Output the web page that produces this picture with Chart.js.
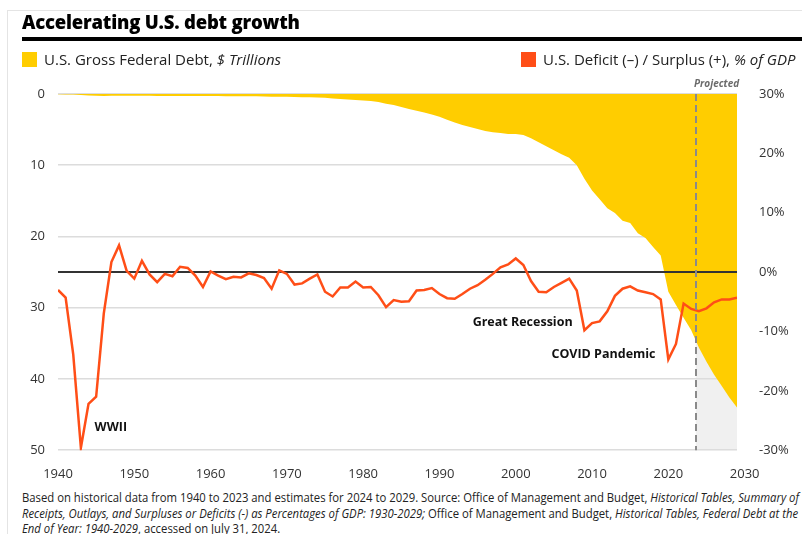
<!DOCTYPE html>
<html>
<head>
<meta charset="utf-8">
<script src="https://cdn.jsdelivr.net/npm/chart.js@4.4.1/dist/chart.umd.min.js"></script>
<style>
  html, body { margin: 0; padding: 0; background: #fff; }
  body { width: 802px; height: 534px; position: relative; overflow: hidden; font-family: "Open Sans", sans-serif; color: #222; }
  #frame { position: absolute; left: 7px; top: 10px; width: 800px; height: 530px; border-left: 1px solid #e4e4e4; border-top: 1px solid #e4e4e4; }
  #title { position: absolute; left: 22px; top: 9px; font-weight: 800; font-size: 18.5px; color: #000; letter-spacing: -0.2px; }
  #rule { position: absolute; left: 22px; top: 37px; right: 0; height: 4px; background: #000; }
  .leg { position: absolute; top: 49px; font-size: 15px; color: #222; display: flex; align-items: center; white-space: nowrap; }
  .sw { width: 15px; height: 15px; margin-right: 7px; }
  #chartBox { position: absolute; left: 0; top: 0; width: 802px; height: 480px; }
  #note { position: absolute; left: 22px; top: 490px; font-size: 13px; line-height: 15.5px; color: #222; transform-origin: 0 0; }
  #note div { white-space: nowrap; }
</style>
</head>
<body>
<div id="frame"></div>
<div id="chartBox"><canvas id="myChart"></canvas></div>
<div id="title">Accelerating U.S. debt growth</div>
<div id="rule"></div>
<div class="leg" style="left:22px"><span class="sw" style="background:#FFCD00"></span>U.S. Gross Federal Debt,&nbsp;<i>$ Trillions</i></div>
<div class="leg" style="left:521px"><span class="sw" style="background:#FF4E17"></span>U.S. Deficit (–) / Surplus (+),&nbsp;<i>% of GDP</i></div>
<div id="note">
  <div id="noteFirst">Based on historical data from 1940 to 2023 and estimates for 2024 to 2029. Source: Office of Management and Budget, <i>Historical Tables, Summary of</i></div>
  <div><i>Receipts, Outlays, and Surpluses or Deficits (-) as Percentages of GDP: 1930-2029;</i> Office of Management and Budget, <i>Historical Tables, Federal Debt at the</i></div>
  <div><i>End of Year: 1940-2029</i>, accessed on July 31, 2024.</div>
</div>
<script>
// squeeze the source note to the width of the frame
const first = document.getElementById('noteFirst');
const k = 777 / first.getBoundingClientRect().width;
document.getElementById('note').style.transform = 'scaleX(' + k + ')';

// years 1940..2029
const years = [];
for (let y = 1940; y <= 2029; y++) years.push(y);

// gross federal debt, $ trillions (end of year)
const debt = [
  0.05, 0.06, 0.08, 0.14, 0.20, 0.26, 0.27, 0.26, 0.25, 0.25,
  0.26, 0.26, 0.26, 0.27, 0.27, 0.27, 0.27, 0.27, 0.28, 0.29,
  0.29, 0.29, 0.30, 0.31, 0.32, 0.32, 0.33, 0.34, 0.37, 0.37,
  0.38, 0.41, 0.44, 0.47, 0.48, 0.54, 0.63, 0.71, 0.78, 0.83,
  0.91, 0.99, 1.14, 1.37, 1.56, 1.82, 2.12, 2.35, 2.60, 2.87,
  3.21, 3.60, 4.00, 4.35, 4.64, 4.92, 5.18, 5.37, 5.48, 5.61,
  5.63, 5.77, 6.20, 6.76, 7.35, 7.91, 8.45, 8.95, 9.99, 11.88,
  13.53, 14.76, 16.05, 16.72, 17.79, 18.12, 19.54, 20.21, 21.46, 22.67,
  27.75, 29.62, 31.42, 33.17, 35.6, 37.6, 39.4, 41.0, 42.6, 44.0
];

// deficit (-) / surplus (+), % of GDP
const deficit = [
  -3.0, -4.3, -13.9, -29.6, -22.2, -21.0, -7.0, 1.7, 4.5, 0.2,
  -1.1, 1.9, -0.4, -1.7, -0.3, -0.7, 0.9, 0.7, -0.6, -2.5,
  0.1, -0.6, -1.2, -0.8, -0.9, -0.2, -0.5, -1.0, -2.8, 0.3,
  -0.3, -2.1, -1.9, -1.1, -0.4, -3.3, -4.1, -2.6, -2.6, -1.6,
  -2.6, -2.5, -3.9, -5.9, -4.7, -5.0, -4.9, -3.1, -3.0, -2.7,
  -3.7, -4.4, -4.5, -3.7, -2.8, -2.2, -1.3, -0.3, 0.8, 1.3,
  2.3, 1.2, -1.5, -3.3, -3.4, -2.5, -1.8, -1.1, -3.1, -9.8,
  -8.6, -8.3, -6.6, -4.0, -2.8, -2.4, -3.1, -3.4, -3.7, -4.6,
  -14.7, -12.1, -5.3, -6.2, -6.6, -6.1, -5.1, -4.6, -4.6, -4.3
];

const xTickYears = [1940, 1950, 1960, 1970, 1980, 1990, 2000, 2010, 2020, 2030];
const debtTicks = [0, 10, 20, 30, 40, 50];
const pctTicks = [30, 20, 10, 0, -10, -20, -30];
const projectedFrom = 2023.6;

const notes = [
  { text: 'WWII', x: 1944.8, y: -26.1, align: 'left' },
  { text: 'Great Recession', x: 2000.9, y: -8.5, align: 'center' },
  { text: 'COVID Pandemic', x: 2011.5, y: -13.9, align: 'center' }
];

const projectedPlugin = {
  id: 'projected',
  beforeDraw(chart) {
    const { ctx, chartArea, scales } = chart;
    const px = scales.x.getPixelForValue(projectedFrom);
    ctx.save();
    ctx.fillStyle = '#f0f0f0';
    ctx.fillRect(px, chartArea.top, chartArea.right - px, chartArea.bottom - chartArea.top);
    ctx.restore();
  },
  afterDatasetsDraw(chart) {
    const { ctx, chartArea, scales } = chart;
    const px = Math.round(scales.x.getPixelForValue(projectedFrom));
    ctx.save();
    ctx.strokeStyle = '#8a8a8a';
    ctx.lineWidth = 2;
    ctx.setLineDash([7, 4]);
    ctx.beginPath();
    ctx.moveTo(px, chartArea.top);
    ctx.lineTo(px, chartArea.bottom);
    ctx.stroke();
    ctx.setLineDash([]);
    ctx.fillStyle = '#6b6b6b';
    ctx.font = 'italic bold 10px "Open Sans"';
    ctx.textAlign = 'left';
    ctx.textBaseline = 'middle';
    ctx.fillText('Projected', px - 2, chartArea.top - 10);

    ctx.fillStyle = '#111';
    ctx.font = 'bold 12.5px "Open Sans"';
    notes.forEach(n => {
      ctx.textAlign = n.align;
      ctx.fillText(n.text, scales.x.getPixelForValue(n.x), scales.y2.getPixelForValue(n.y));
    });
    ctx.restore();
  }
};

const ctx = document.getElementById('myChart');

const chart = new Chart(ctx, {
  type: 'line',
  data: {
    datasets: [
      {
        label: 'U.S. Deficit (-) / Surplus (+), % of GDP',
        data: years.map((y, i) => ({ x: y, y: deficit[i] })),
        yAxisID: 'y2',
        borderColor: '#FF4E17',
        borderWidth: 2.5,
        pointRadius: 0,
        tension: 0,
        fill: false
      },
      {
        label: 'zero',
        data: [{ x: years[0], y: 0 }, { x: years[years.length - 1], y: 0 }],
        yAxisID: 'y2',
        borderColor: '#333',
        borderWidth: 2,
        pointRadius: 0,
        fill: false
      },
      {
        label: 'U.S. Gross Federal Debt, $ Trillions',
        data: years.map((y, i) => ({ x: y, y: debt[i] })),
        yAxisID: 'y',
        borderWidth: 0,
        borderColor: 'rgba(0,0,0,0)',
        backgroundColor: '#FFCD00',
        pointRadius: 0,
        tension: 0,
        fill: 'origin'
      }
    ]
  },
  options: {
    responsive: true,
    maintainAspectRatio: false,
    animation: false,
    layout: { padding: { top: 94, left: 0, right: 0, bottom: 0 } },
    plugins: {
      legend: { display: false },
      tooltip: { enabled: false }
    },
    scales: {
      x: {
        type: 'linear',
        min: 1940,
        max: 2029,
        grid: { display: false },
        border: { display: false },
        afterBuildTicks(s) { s.ticks = xTickYears.map(v => ({ value: v })); },
        afterFit(s) { s.height = 28; },
        ticks: {
          autoSkip: false,
          maxRotation: 0,
          padding: 8,
          color: '#333',
          font: { family: 'Open Sans', size: 13 },
          callback: v => String(v)
        }
      },
      y: {
        position: 'left',
        reverse: true,
        min: 0,
        max: 50,
        afterBuildTicks(s) { s.ticks = debtTicks.map(v => ({ value: v })); },
        afterFit(s) { s.width = 58; },
        grid: { color: '#dcdcdc', lineWidth: 1.5, drawTicks: false },
        border: { display: false },
        ticks: { padding: 13, color: '#333', font: { family: 'Open Sans', size: 13 } }
      },
      y2: {
        position: 'right',
        min: -30,
        max: 30,
        afterBuildTicks(s) { s.ticks = pctTicks.map(v => ({ value: v })); },
        afterFit(s) { s.width = 65; },
        grid: { display: false, drawTicks: false },
        border: { display: false },
        ticks: { padding: 22, color: '#333', font: { family: 'Open Sans', size: 13 }, callback: v => v + '%' }
      }
    }
  },
  plugins: [projectedPlugin]
});
</script>
</body>
</html>
